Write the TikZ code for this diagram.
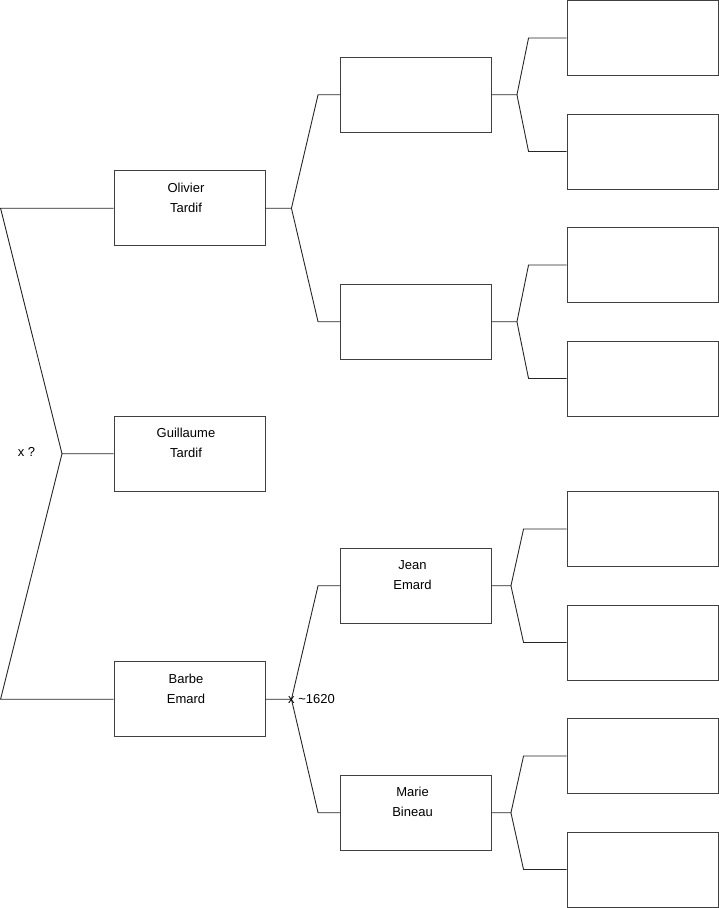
\documentclass[tikz,border=0pt]{standalone}
\usepackage{fontspec}
\setmainfont{Liberation Sans}
\usetikzlibrary{calc}

\newcommand{\pname}[2]{\makebox[0pt]{\raisebox{7pt}[0pt][0pt]{%
    \begin{tabular}{@{}c@{}}#1\\#2\end{tabular}}\hspace{7pt}}}

\begin{document}
\begin{tikzpicture}[x=1pt, y=-1pt,
    person/.style={draw=black!75, line width=0.9pt, minimum width=151pt,
                   minimum height=75pt, inner sep=0pt,
                   font=\fontsize{13}{20}\selectfont},
    link/.style={draw=black!85, line width=0.9pt},
    note/.style={font=\fontsize{13}{15}\selectfont, inner sep=0pt}
  ]
    \useasboundingbox (0,0) rectangle (719,908);

    % first generation
    \node[person] (olivier) at (189.5,208.25) {\pname{Olivier}{Tardif}};
    \node[person] (guillaume) at (189.5,453.75) {\pname{Guillaume}{Tardif}};
    \node[person] (barbe) at (189.5,699.25) {\pname{Barbe}{Emard}};

    % second generation
    \node[person] (pa) at (416,94.75) {};
    \node[person] (pb) at (416,321.75) {};
    \node[person] (jean) at (416,585.75) {\pname{Jean}{Emard}};
    \node[person] (marie) at (416,812.75) {\pname{Marie}{Bineau}};

    % third generation
    \foreach \i/\y in {1/38, 2/151.5, 3/265, 4/378.5,
                       5/529, 6/642.5, 7/756, 8/869.5}
      \node[person] (g\i) at (642.5,\y) {};

    % marriage bracket
    \coordinate (root) at (62,453.75);
    \draw[link] (olivier.west) -- ++(-113,0) -- (root) -- (guillaume.west);
    \draw[link] (barbe.west) -- ++(-113,0) -- (root);
    \node[note] (unknown) at (26.5,452) {x ?};

    % parents
    \foreach \p/\a/\b/\d/\e in {olivier/pa/pb/26/22, barbe/jean/marie/26/22,
                                pa/g1/g2/25/38, pb/g3/g4/25/38,
                                jean/g5/g6/19/43, marie/g7/g8/19/43} {
      \draw[link] (\p.east) -- ++(\d,0) coordinate (f-\p)
        -- ([xshift=-\e pt]\a.west) -- (\a.west);
      \draw[link] (f-\p) -- ([xshift=-\e pt]\b.west) -- (\b.west);
    }

    \node[note, anchor=west] (date) at ([xshift=-3.5pt,yshift=0.5pt]f-barbe)
      {x \textasciitilde1620};
\end{tikzpicture}
\end{document}
